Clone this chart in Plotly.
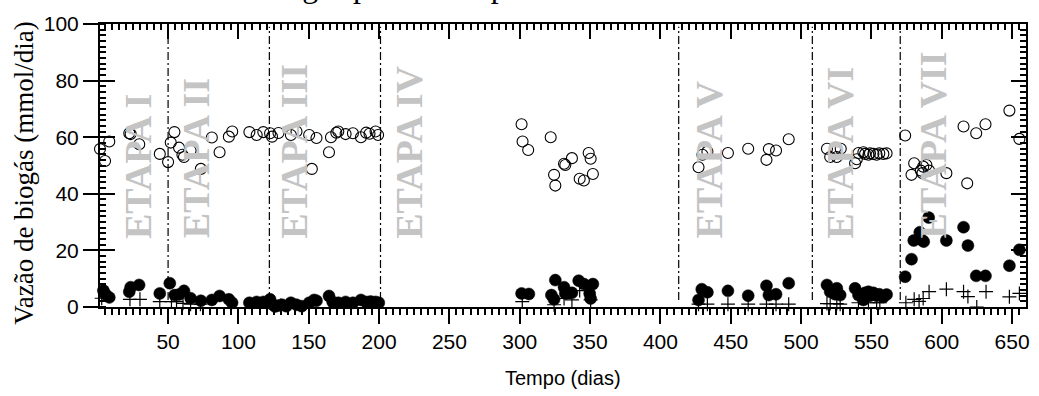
import plotly.graph_objects as go

# --- Dados ---------------------------------------------------------------
# Círculos abertos
dias_abertos = [1.6, 5.2, 8.2, 22.4, 23.4, 29.5, 44.1, 50.0, 51.9, 54.5, 57.8, 60.2, 61.3,
                66.0, 73.3, 81.1, 86.6, 93.2, 95.6, 107.8, 113.0, 117.7, 122.5, 123.9,
                128.5, 137.3, 141.3, 150.3, 152.2, 155.5, 164.4, 165.8, 169.6, 171.0,
                176.2, 181.4, 187.1, 190.8, 193.2, 197.5, 199.3,
                301.3, 302.0, 306.0, 322.0, 324.4, 325.3, 331.5, 332.4, 337.1, 342.6,
                345.6, 349.0, 350.4, 352.0,
                427.1, 429.9, 433.4, 448.0, 462.4, 475.4, 477.1, 482.2, 491.2,
                518.4, 520.7, 524.2, 525.4, 528.2, 538.4, 539.6, 540.8, 544.3, 545.5,
                547.9, 549.0, 551.4, 553.7, 555.6, 558.5, 560.8,
                574.0, 578.5, 580.4, 585.1, 586.8, 589.1, 586.3, 591.0, 603.3, 615.5,
                618.1, 624.5, 631.1, 648.1, 655.2]
vazao_abertos = [55.8, 51.6, 58.5, 61.4, 61.1, 57.5, 54.1, 51.2, 58.1, 61.8, 56.3, 53.8, 53.0,
                 55.3, 48.8, 59.9, 54.7, 60.2, 62.0, 61.8, 60.8, 61.8, 61.4, 60.2,
                 61.5, 60.8, 62.0, 60.8, 48.8, 59.7, 54.7, 60.0, 61.6, 62.0,
                 61.1, 61.4, 60.0, 61.6, 61.2, 62.0, 60.8,
                 64.6, 58.5, 55.5, 60.0, 46.7, 42.9, 50.6, 50.2, 52.6, 45.3,
                 44.7, 54.4, 52.4, 47.0,
                 49.4, 53.8, 54.9, 54.4, 55.9, 52.0, 55.8, 55.3, 59.3,
                 55.9, 53.0, 55.9, 53.0, 55.9, 50.8, 52.2, 54.4, 54.7, 54.1,
                 53.8, 54.3, 54.1, 53.8, 54.3, 54.1, 54.3,
                 60.6, 46.7, 50.8, 48.2, 49.6, 50.2, 47.3, 48.2, 47.3, 63.8,
                 43.7, 61.4, 64.6, 69.4, 59.4]

# Círculos cheios
dias_cheios = [1.5, 4.0, 5.5, 8.2, 22.4, 23.4, 29.4, 44.1, 51.2, 54.7, 57.8, 61.3, 66.0,
               73.3, 81.1, 86.6, 93.2, 95.5,
               107.8, 113.0, 117.7, 122.5, 124.0, 126.0, 128.5, 131.0, 134.0, 137.3,
               141.3, 145.0, 150.3, 153.8, 155.5, 164.4, 167.0, 171.0, 176.2, 181.4,
               187.1, 190.8, 194.0, 197.5, 199.8,
               301.3, 306.5, 322.5, 324.4, 325.3, 331.5, 332.4, 337.1, 341.9, 345.6,
               349.7, 350.4, 352.0,
               427.1, 429.4, 433.4, 448.0, 462.4, 475.4, 477.1, 482.2, 491.2,
               518.4, 520.7, 524.2, 525.4, 527.8, 538.4, 540.8, 544.3, 545.5, 547.9,
               549.0, 551.4, 553.7, 555.6, 558.5, 560.8,
               574.0, 578.5, 580.1, 584.4, 586.3, 587.2, 590.7, 603.3, 615.5, 618.6,
               624.5, 631.1, 648.1, 655.2]
vazao_cheios = [9.5, 5.8, 4.5, 3.4, 5.4, 7.0, 7.8, 4.8, 8.4, 4.2, 4.4, 5.7, 3.1,
                2.2, 2.5, 3.9, 2.7, 1.5,
                1.5, 1.8, 1.8, 2.7, 1.0, 0.2, 0.5, 0.8, 0.3, 1.5,
                0.8, 0.3, 1.5, 2.5, 2.2, 3.9, 1.8, 1.5, 1.8, 1.5,
                2.5, 1.8, 1.9, 1.8, 1.5,
                4.8, 4.6, 4.2, 2.7, 9.5, 7.0, 4.8, 5.0, 9.3, 8.1,
                4.8, 3.0, 8.1,
                2.5, 6.3, 5.2, 5.7, 4.0, 7.5, 4.2, 4.5, 8.4,
                7.8, 5.4, 4.5, 6.6, 4.2, 6.6, 4.2, 2.5, 5.0, 5.4,
                4.0, 5.0, 4.0, 4.5, 3.5, 4.4,
                10.7, 16.9, 23.5, 26.4, 23.5, 23.1, 31.6, 23.5, 28.2, 21.7,
                11.0, 11.0, 14.6, 20.2]

# Cruzes
dias_cruzes = [2.8, 22.9, 30.0, 44.1, 52.4, 56.0, 60.6, 66.0, 73.0,
               130.0, 140.0, 150.0,
               301.8, 324.4, 331.5, 337.1, 342.6, 350.4,
               427.1, 433.4, 448.0, 462.4, 475.4, 482.2, 491.2,
               518.4, 520.7, 525.4, 527.8, 540.8, 547.9, 553.7, 556.0,
               574.5, 580.4, 583.9, 586.8, 591.0, 603.3, 615.5, 618.6, 624.9,
               631.5, 648.1, 655.2]
vazao_cruzes = [3.1, 2.7, 2.7, 1.9, 1.9, 1.9, 1.3, 1.0, 1.0,
                0.5, 0.5, 0.5,
                1.9, 0.8, 3.0, 2.5, 5.8, 2.5,
                1.0, 1.0, 1.0, 1.0, 1.0, 1.0, 1.0,
                1.2, 1.2, 1.2, 1.0, 1.5, 1.5, 1.5, 1.5,
                1.5, 2.7, 2.0, 3.0, 5.4, 6.3, 5.4, 3.7, 0.0,
                5.4, 3.6, 4.8]

# Limites entre etapas (dias) e rótulos
limites_etapas = [50, 122, 201, 413, 508, 570.5]
rotulos_etapas = ["ETAPA I", "ETAPA II", "ETAPA III", "ETAPA IV",
                  "ETAPA V", "ETAPA VI", "ETAPA VII"]
pos_rotulos = [28.6, 69.6, 139.4, 221.1, 434.5, 527.2, 594.1]

ticks_x = [50, 100, 150, 200, 250, 300, 350, 400, 450, 500, 550, 600, 650]
ticks_y = [0, 20, 40, 60, 80, 100]

X_RANGE = [1.6, 659.9]
Y_RANGE = [0, 100]

SANS = "Liberation Sans, Arial, sans-serif"
SERIF = "Liberation Serif, Times New Roman, serif"

fig = go.Figure()

fig.add_trace(go.Scatter(
    x=dias_cruzes, y=vazao_cruzes, mode="markers", cliponaxis=False,
    marker=dict(symbol="cross-thin", size=10, line=dict(color="black", width=1.2)),
    showlegend=False))
fig.add_trace(go.Scatter(
    x=dias_cheios, y=vazao_cheios, mode="markers", cliponaxis=False,
    marker=dict(symbol="circle", size=12, color="black", line=dict(color="black", width=0.5)),
    showlegend=False))
fig.add_trace(go.Scatter(
    x=dias_abertos, y=vazao_abertos, mode="markers", cliponaxis=False,
    marker=dict(symbol="circle-open", size=11, color="black", line=dict(color="black", width=1.1)),
    showlegend=False))

# Linhas tracejadas separando as etapas
for d in limites_etapas:
    fig.add_shape(type="line", xref="x", yref="y", x0=d, x1=d, y0=2.5, y1=99,
                  line=dict(color="black", width=1.2, dash="8px,3px,2px,3px"),
                  layer="below")

# Rótulos das etapas
for nome, xp in zip(rotulos_etapas, pos_rotulos):
    fig.add_annotation(x=xp, y=23.5, xref="x", yref="y", text=nome, showarrow=False,
                       textangle=-90, xanchor="center", yanchor="bottom",
                       font=dict(family=SERIF, size=38, color="#c4c4c4", weight="bold"))

# Título do eixo y
fig.add_annotation(x=(23 - 100) / 930, y=(307 - 172.5) / 283, xref="paper", yref="paper",
                   text="Vazão de biogás (mmol/dia)", showarrow=False, textangle=-90,
                   xanchor="center", yanchor="middle",
                   font=dict(family=SERIF, size=27, color="black"))

# Título do eixo x
fig.add_annotation(x=0.5, y=(307 - 378) / 283, xref="paper", yref="paper",
                   text="Tempo (dias)", showarrow=False, xanchor="center", yanchor="middle",
                   font=dict(family=SANS, size=20, color="black"))

# Título da figura (parte superior, cortado pela borda)
fig.add_annotation(x=(135 - 100) / 930, y=(307 - 6) / 283, xref="paper", yref="paper",
                   text="Vazão de biogás produzido pelo reator", showarrow=False,
                   xanchor="left", yanchor="bottom",
                   font=dict(family=SERIF, size=32, color="black"))

eixo_comum = dict(showgrid=False, zeroline=False, showline=True, linecolor="black",
                  linewidth=2, tickcolor="black")

fig.update_layout(
    width=1039, height=396,
    margin=dict(l=100, r=9, t=24, b=89),
    paper_bgcolor="white", plot_bgcolor="white",
    xaxis=dict(**eixo_comum, range=X_RANGE, tickvals=ticks_x, ticks="outside",
               ticklen=15, tickwidth=2,
               tickfont=dict(family=SANS, size=21, color="black"),
               minor=dict(tick0=0, dtick=5, ticks="outside", ticklen=6, tickwidth=1.5,
                          tickcolor="black", showgrid=False)),
    xaxis2=dict(**eixo_comum, range=X_RANGE, overlaying="x", side="top",
                tickvals=ticks_x, ticks="inside", ticklen=15, tickwidth=2,
                showticklabels=False,
                minor=dict(tick0=0, dtick=5, ticks="inside", ticklen=6, tickwidth=1.5,
                           tickcolor="black", showgrid=False)),
    yaxis=dict(**eixo_comum, range=Y_RANGE, tickvals=ticks_y, ticks="outside",
               ticklen=15, tickwidth=2,
               tickfont=dict(family=SANS, size=21, color="black"),
               minor=dict(tick0=0, dtick=2, ticks="inside", ticklen=6, tickwidth=1.5,
                          tickcolor="black", showgrid=False)),
    yaxis3=dict(showgrid=False, zeroline=False, showline=False, range=Y_RANGE,
                overlaying="y", side="left", tickvals=ticks_y, ticks="inside",
                ticklen=15, tickwidth=2, tickcolor="black", showticklabels=False),
    yaxis2=dict(**eixo_comum, range=Y_RANGE, overlaying="y", side="right",
                tickvals=ticks_y, ticks="inside", ticklen=15, tickwidth=2,
                showticklabels=False,
                minor=dict(tick0=0, dtick=2, ticks="inside", ticklen=6, tickwidth=1.5,
                           tickcolor="black", showgrid=False)),
)

# Traços invisíveis que ativam os eixos auxiliares
fig.add_trace(go.Scatter(x=[X_RANGE[0]], y=[0], xaxis="x2", yaxis="y2", mode="markers",
                         marker=dict(opacity=0), showlegend=False, hoverinfo="skip"))
fig.add_trace(go.Scatter(x=[X_RANGE[0]], y=[0], xaxis="x", yaxis="y3", mode="markers",
                         marker=dict(opacity=0), showlegend=False, hoverinfo="skip"))

fig.write_html("out.html")
